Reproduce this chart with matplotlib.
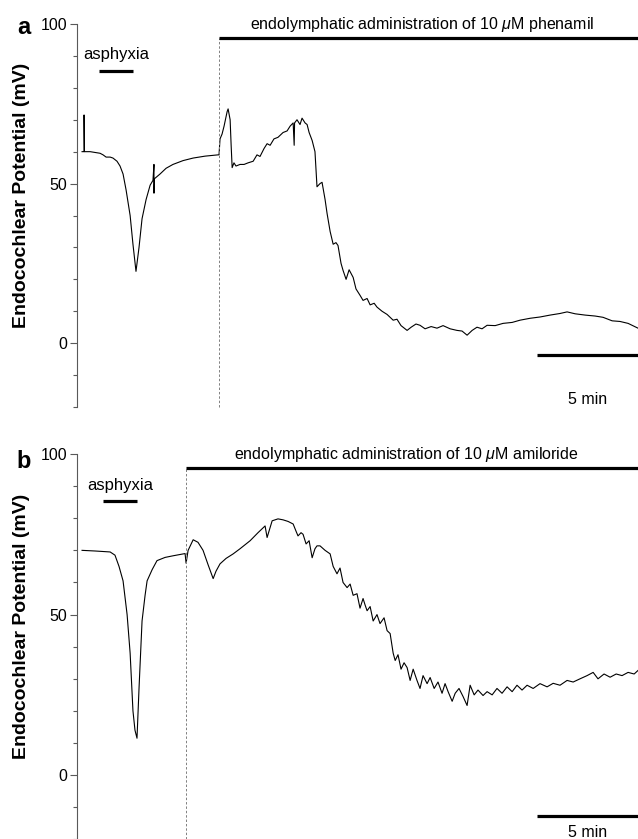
import matplotlib
matplotlib.use('Agg')
import matplotlib.pyplot as plt
from matplotlib.ticker import MultipleLocator

plt.rcParams['font.family'] = ['Liberation Sans', 'DejaVu Sans']
plt.rcParams['mathtext.fontset'] = 'custom'
plt.rcParams['mathtext.rm'] = 'Liberation Sans'
plt.rcParams['mathtext.it'] = 'Liberation Sans:italic'

# time in minutes, potential in mV
t_a = [0.0, 0.1, 0.1, 0.12, 0.4, 0.89, 1.04, 1.19, 1.39, 1.53, 1.73, 1.88, 2.03, 2.18, 2.38, 2.52,
       2.67, 2.82, 2.97, 3.17, 3.37, 3.51, 3.56, 3.56, 3.58, 3.86, 4.16, 4.5, 5.0, 5.5, 6.09, 6.73,
       6.78, 6.83, 6.93, 7.03, 7.18, 7.23, 7.33, 7.38, 7.43, 7.52, 7.62, 7.82, 8.02, 8.22, 8.47,
       8.66, 8.81, 9.01, 9.16, 9.31, 9.5, 9.7, 9.95, 10.15, 10.3, 10.45, 10.5, 10.52, 10.64, 10.79,
       10.89, 11.04, 11.14, 11.24, 11.39, 11.53, 11.63, 11.78, 11.88, 12.03, 12.13, 12.28, 12.43,
       12.57, 12.67, 12.82, 12.92, 13.07, 13.22, 13.42, 13.56, 13.76, 13.91, 14.11, 14.26, 14.46,
       14.6, 14.85, 15.1, 15.4, 15.59, 15.79, 16.09, 16.29, 16.53, 16.73, 16.98, 17.28, 17.57,
       17.87, 18.22, 18.56, 18.81, 19.06, 19.31, 19.55, 19.8, 20.05, 20.45, 20.84, 21.29, 21.68,
       22.18, 22.67, 23.17, 23.66, 24.01, 24.41, 24.9, 25.4, 25.79, 26.24, 26.63, 27.03, 27.52]
ep_a = [60, 60, 71.5, 60, 60, 59.5, 59.0, 58.3, 58.3, 58, 57, 55.5, 53, 48, 40, 31,
        22.5, 30, 39, 45, 49.5, 51, 56, 47, 51.5, 53, 54.8, 56, 57.2, 58, 58.6, 59,
        59, 64, 65.5, 68, 72.5, 73.4, 70, 62, 55, 56.5, 55.5, 56, 56, 56.5, 57,
        59, 58.5, 61, 62.5, 62, 64, 64.5, 66, 66.5, 68, 69, 62, 69, 70, 68.5,
        70.5, 69, 68.5, 66, 63.5, 60, 49, 50, 50.4, 45, 40.6, 35, 31,
        31.5, 30.6, 25, 22.8, 20, 23, 20.6, 17, 15, 13.4, 14, 12, 12.5,
        11.3, 10, 9, 7.2, 7.5, 5.5, 4, 5, 6, 5.6, 4.5, 5.2, 4.7,
        5.5, 4.5, 4, 3.8, 2.5, 4, 5, 4.5, 5.6, 5.5, 6.2, 6.5, 7.2,
        7.8, 8.2, 8.8, 9.3, 9.8, 9.2, 8.8, 8.5, 8.1, 7, 6.8, 6.2, 4.7]

t_b = [0.0, 0.64, 1.39, 1.63, 1.83, 2.03, 2.23, 2.38, 2.52, 2.62, 2.72, 2.82, 2.97, 3.12, 3.22,
       3.47, 3.71, 4.11, 4.5, 5.1, 5.15, 5.25, 5.5, 5.74, 5.99, 6.24, 6.49, 6.63, 6.83, 7.13,
       7.48, 7.82, 8.32, 8.71, 9.06, 9.16, 9.41, 9.7, 9.95, 10.2, 10.45, 10.59, 10.69, 10.84,
       10.94, 11.09, 11.24, 11.39, 11.53, 11.63, 11.78, 12.03, 12.28, 12.43, 12.62, 12.77, 12.92,
       13.12, 13.27, 13.42, 13.61, 13.76, 13.91, 14.01, 14.11, 14.26, 14.41, 14.6, 14.75, 14.95,
       15.1, 15.25, 15.4, 15.5, 15.64, 15.79, 15.94, 16.09, 16.24, 16.39, 16.58, 16.73, 16.88,
       17.08, 17.23, 17.43, 17.62, 17.82, 17.97, 18.12, 18.32, 18.47, 18.66, 18.86, 19.06, 19.21,
       19.41, 19.6, 19.85, 20.05, 20.3, 20.54, 20.79, 21.04, 21.29, 21.53, 21.78, 22.03, 22.33,
       22.67, 23.02, 23.32, 23.66, 24.01, 24.31, 24.65, 25.0, 25.3, 25.54, 25.84, 26.14, 26.44,
       26.73, 27.03, 27.33, 27.52]
ep_b = [70, 69.8, 69.5, 68.5, 65, 60.5, 50, 38, 20, 14, 11.5, 27, 48, 56, 60.5,
        64, 66.8, 67.8, 68.3, 69, 66, 70, 73.3, 72.5, 70, 65.5, 61.2, 63.5, 65.8, 67.5,
        68.9, 70.5, 73, 75.5, 77.6, 74, 79.2, 79.8, 79.5, 79, 78.2, 76, 74.5, 75.5,
        75, 72, 73, 67.7, 70.5, 71.4, 71.4, 70, 68.9, 65, 62.7, 64.5, 60,
        58.4, 59.5, 56, 56.5, 52, 55, 53, 51.2, 52.5, 48, 50, 47.2, 49,
        45, 44.1, 38, 35.7, 37.5, 33, 35, 33.5, 29.5, 33, 29.5, 27, 31,
        28.5, 30.4, 27, 29, 25.5, 28.5, 26, 23, 25.5, 27, 24.5, 21.7, 28,
        25, 26.5, 24.8, 26, 25, 27, 25.5, 27.5, 26, 28, 26.5, 28, 27,
        28.5, 27.5, 28.6, 28, 29.5, 29, 30, 31, 32, 30, 31.5, 30.5, 31.5,
        31, 32, 31.5, 32.6]

drug_a = 'endolymphatic administration of 10 $\\mu$M phenamil'
drug_b = 'endolymphatic administration of 10 $\\mu$M amiloride'
drug_start_a = 6.78
drug_start_b = 5.15
asph_a = (0.84, 2.52)
asph_b = (1.04, 2.72)
t_end = 27.52
scale_y_a = -3.8
scale_y_b = -12.7


def draw_panel(ax, t, ep, letter, letter_y, drug, drug_start, asph, scale_y, label_y):
    ax.plot(t, ep, color='black', lw=0.8)
    ax.set_xlim(-0.25, t_end)
    ax.set_ylim(-20, 100)
    for s in ['top', 'right', 'bottom']:
        ax.spines[s].set_visible(False)
    ax.spines['left'].set_color('0.35')
    ax.spines['left'].set_linewidth(0.8)
    ax.set_xticks([])
    ax.set_yticks([0, 50, 100])
    ax.yaxis.set_minor_locator(MultipleLocator(10))
    ax.tick_params(axis='y', which='major', length=5, width=0.8, color='0.35', labelsize=11.5, pad=2)
    ax.tick_params(axis='y', which='minor', length=3, width=0.8, color='0.35')

    # drug application
    ax.plot([drug_start, drug_start], [-20, 95.5], color='0.5', lw=0.7, ls=(0, (2.5, 2)), clip_on=False)
    ax.plot([drug_start, t_end], [95.5, 95.5], color='black', lw=2.3, solid_capstyle='butt', clip_on=False)
    ax.text((drug_start + t_end) / 2 - 0.3, 100, drug, ha='center', va='center', fontsize=11.5, clip_on=False)

    # asphyxia
    ax.plot(list(asph), [85.4, 85.4], color='black', lw=2.3, solid_capstyle='butt')
    ax.text(sum(asph) / 2, 90.3, 'asphyxia', ha='center', va='center', fontsize=12)

    # scale bar
    ax.plot([t_end - 5, t_end], [scale_y, scale_y], color='black', lw=2.3, solid_capstyle='butt', clip_on=False)
    ax.text(t_end - 2.5, -17.8, '5 min', ha='center', va='center', fontsize=11.5, clip_on=False)

    fig.text(24 / 638, letter_y, letter, ha='center', va='center', fontsize=17, fontweight='bold')
    fig.text(22 / 638, label_y, 'Endocochlear Potential (mV)', rotation=90, ha='center', va='center',
             fontsize=14, fontweight='bold')


fig = plt.figure(figsize=(6.38, 8.39), dpi=100)
ax_a = fig.add_axes([77 / 638, 1 - 407 / 839, 1 - 77 / 638, (407 - 24) / 839])
ax_b = fig.add_axes([77 / 638, 1 - 839.4 / 839, 1 - 77 / 638, (839.4 - 454) / 839])

draw_panel(ax_a, t_a, ep_a, 'a', 1 - 27 / 839, drug_a, drug_start_a, asph_a, scale_y_a, 1 - 195.5 / 839)
draw_panel(ax_b, t_b, ep_b, 'b', 1 - 461 / 839, drug_b, drug_start_b, asph_b, scale_y_b, 1 - 626 / 839)

plt.savefig('out.png', dpi=100)
